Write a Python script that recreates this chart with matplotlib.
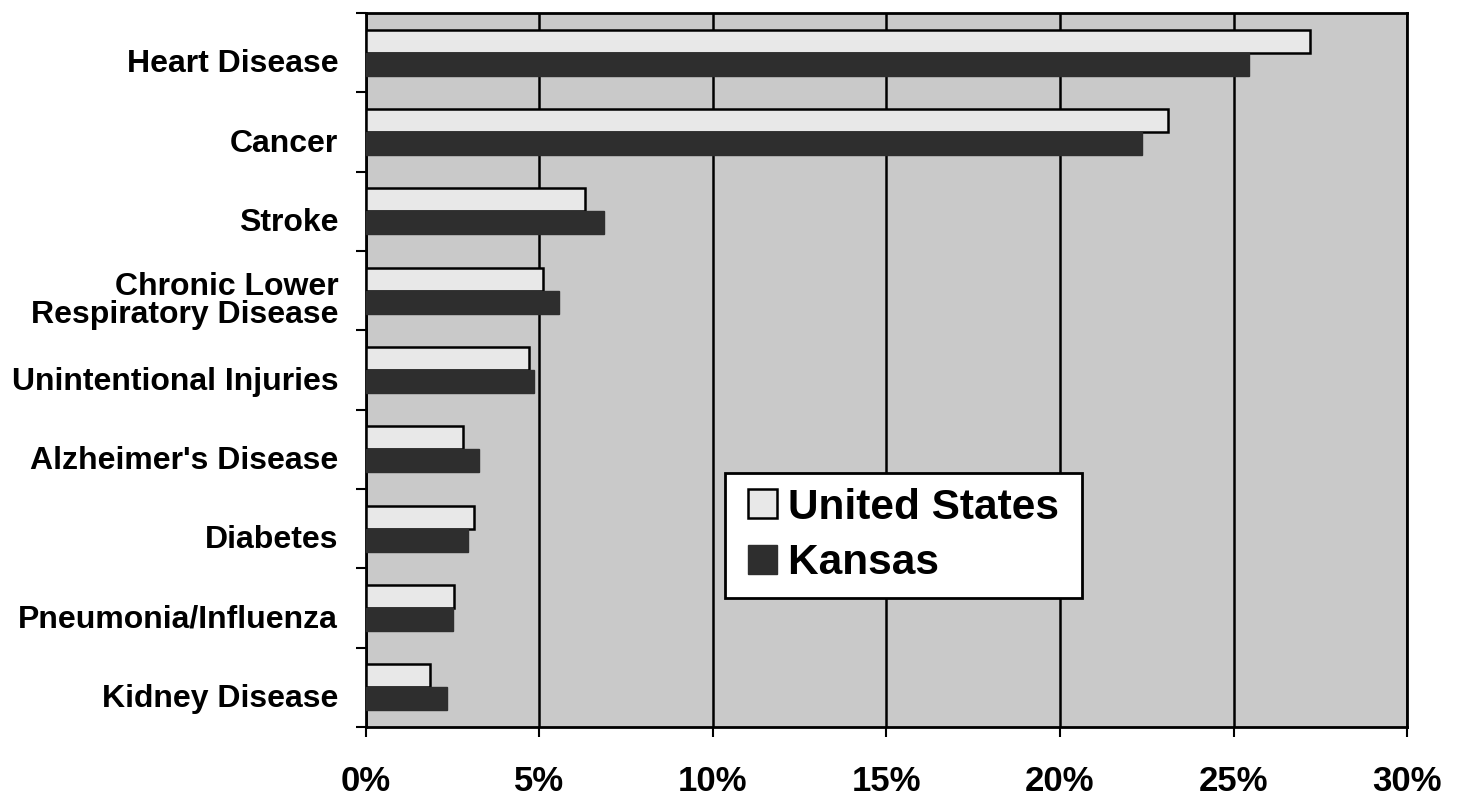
import numpy as np
import matplotlib.pyplot as plt
import matplotlib.transforms as mtransforms
from matplotlib.patches import Rectangle
from matplotlib.container import BarContainer
from matplotlib.legend_handler import HandlerPatch

causes = ['Heart Disease', 'Cancer', 'Stroke', 'Chronic Lower\nRespiratory Disease',
          'Unintentional Injuries', "Alzheimer's Disease", 'Diabetes',
          'Pneumonia/Influenza', 'Kidney Disease']
us_pct = [27.2, 23.1, 6.3, 5.1, 4.7, 2.8, 3.1, 2.55, 1.85]
kansas_pct = [25.45, 22.35, 6.85, 5.55, 4.85, 3.25, 2.95, 2.5, 2.35]
xticks = [0, 5, 10, 15, 20, 25, 30]

plt.rcParams['font.family'] = ['Liberation Sans', 'DejaVu Sans']
plt.rcParams['font.weight'] = 'bold'

fig = plt.figure(figsize=(14.62, 7.99), dpi=100)
ax = fig.add_axes([0.2503, 0.0901, 0.9624 - 0.2503, 0.9837 - 0.0901])
ax.set_facecolor('#c9c9c9')

idx = np.arange(len(causes))
h = 0.29
ax.barh(idx - h/2, us_pct, height=h, color='#e8e8e8', edgecolor='black',
        linewidth=1.8, label='United States', zorder=3)
ax.barh(idx + h/2, kansas_pct, height=h, color='#2e2e2e', edgecolor='#2e2e2e',
        linewidth=1.0, label='Kansas', zorder=3)

ax.set_xlim(0, 30)
ax.set_ylim(len(causes) - 0.5, -0.5)
ax.set_xticks(xticks)
ax.set_xticklabels([str(t) + '%' for t in xticks], fontsize=25, fontweight='bold')
ax.set_yticks(idx)
ax.set_yticklabels(causes, fontsize=23, fontweight='bold', linespacing=0.92)
ax.set_yticks(np.arange(-0.5, len(causes)), minor=True)
ax.tick_params(axis='y', which='major', length=0, pad=20)
ax.tick_params(axis='y', which='minor', length=7, width=1.5, direction='out')
ax.tick_params(axis='x', length=7, width=1.5, direction='out', pad=20)

# labels sit a little lower than the slot centres in the original
shift = mtransforms.ScaledTranslation(0, -8 / 100, fig.dpi_scale_trans)
for lab in ax.get_yticklabels():
    lab.set_transform(lab.get_transform() + shift)

ax.xaxis.grid(True, color='black', linewidth=1.8, zorder=1)
ax.set_axisbelow(True)
for s in ax.spines.values():
    s.set_linewidth(2)


def square_handle(legend, orig_handle, xdescent, ydescent, width, height, fontsize):
    # small square pushed to the right end of the handle box
    return Rectangle((width - height - xdescent, -ydescent), height, height)


def first_bar(legend_handle, orig_handle):
    legend_handle.update_from(orig_handle.patches[0])


leg = ax.legend(loc='upper left', bbox_to_anchor=(0.345, 0.356), borderaxespad=0,
                fontsize=30.5, frameon=True, fancybox=False, framealpha=1,
                edgecolor='black', handlelength=0.88, handleheight=0.68,
                handletextpad=0.25, labelspacing=0.36, borderpad=0.35,
                handler_map={BarContainer: HandlerPatch(patch_func=square_handle,
                                                        update_func=first_bar)})
leg.get_frame().set_linewidth(2)
for t in leg.get_texts():
    t.set_fontweight('bold')
    t.set_text(t.get_text() + '\u2009')

fig.savefig('out.png', dpi=100)
